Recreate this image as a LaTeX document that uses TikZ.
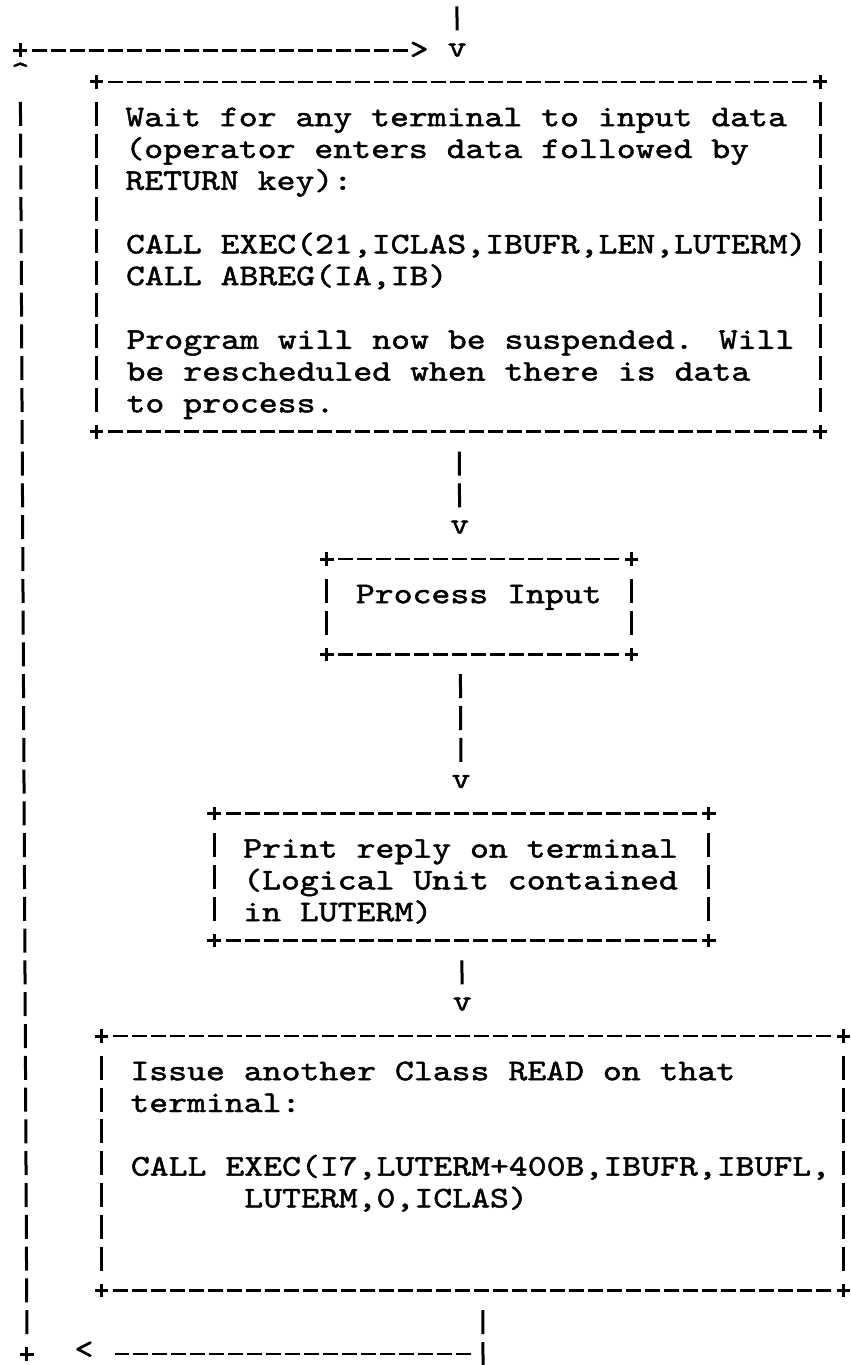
\documentclass[tikz,border=0pt]{standalone}
\usepackage{fontspec}
\usepackage{tikz}
\usetikzlibrary{calc, fit}
\newfontfamily\scanfont{lmmono10-regular.otf}[FakeStretch=1.2, FakeBold=1.5]
\tikzset{
  hdash/.style={line width=1.4pt, dash pattern=on 7.5pt off 2pt,
                shorten <=5.75pt, shorten >=5.75pt},
  vbar/.style={line width=1.5pt, dash pattern=on 12pt off 3.9pt,
               shorten <=9.9pt, shorten >=9.9pt},
  txt/.style={anchor=north west, inner sep=0pt, yshift=5.13pt, align=left,
              font=\scanfont\fontsize{15}{15.9}\selectfont},
  glyph/.style={inner sep=0pt, font=\scanfont\fontsize{15}{15.9}\selectfont},
  frame/.style={inner sep=0pt, outer sep=0pt},
  plus/.pic={\draw[line width=1.5pt] (-3.4pt,0) -- (3.4pt,0) (0,-3.4pt) -- (0,3.4pt);},
}
% ascii border round a fitted box
\newcommand\asciiframe[1]{%
  \draw[hdash] (#1.north west) -- (#1.north east);
  \draw[hdash] (#1.south west) -- (#1.south east);
  \draw[vbar] (#1.north west) -- (#1.south west);
  \draw[vbar] (#1.north east) -- (#1.south east);
  \foreach \c in {north west, north east, south west, south east}
    \pic at (#1.\c) {plus};
}

\begin{document}
\begin{tikzpicture}[x=9.5pt, y=-15.9pt]
  \path[use as bounding box, fill=white] (-1.0526,-0.5786) rectangle (43.737,42.346);
  \begin{scope}[xslant=-0.00524]
  %% Entry and wait box
  \coordinate (entry) at (23,-1);
  \node[glyph] (tipwait) at (23,1) {v};
  \draw[vbar] (entry) -- (tipwait.center);
  \node[frame, fit={(4,2) (42,13)}] (waitbox) {};
  \asciiframe{waitbox}
  \node[txt] (waittxt) at (5.5,3) {\strut Wait for any terminal to input data\\
    (operator enters data followed by\\RETURN key):};
  \node[txt] (waitcall) at (5.5,7) {\strut CALL EXEC(21,ICLAS,IBUFR,LEN,LUTERM)\\
    CALL ABREG(IA,IB)};
  \node[txt] (waitnote) at (5.5,10) {\strut Program will now be suspended. Will\\
    be rescheduled when there is data\\to process.};
  %% Process box
  \node[glyph] (tipproc) at (23,16) {v};
  \draw[vbar] (waitbox.south -| tipproc) -- (tipproc.center);
  \node[frame, fit={(16,17) (32,20)}] (procbox) {};
  \asciiframe{procbox}
  \node[txt] (proctxt) at (17.5,18) {\strut Process Input};
  %% Print box
  \node[glyph] (tipprint) at (23,24) {v};
  \draw[vbar] (procbox.south -| tipprint) -- (tipprint.center);
  \node[frame, fit={(10,25) (36,29)}] (printbox) {};
  \asciiframe{printbox}
  \node[txt] (printtxt) at (11.5,26) {\strut Print reply on terminal\\
    (Logical Unit contained\\in LUTERM)};
  %% Issue box
  \node[glyph] (tipissue) at (23,31) {v};
  \draw[vbar] (printbox.south -| tipissue) -- (tipissue.center);
  \node[frame, fit={(4,32) (43,40)}] (issuebox) {};
  \asciiframe{issuebox}
  \node[txt] (issuetxt) at (5.5,33) {\strut Issue another Class READ on that\\terminal:};
  \node[txt] (issuecall) at (5.5,36) {\strut CALL EXEC(I7,LUTERM+400B,IBUFR,IBUFL,\\
    \hphantom{CALL E}LUTERM,0,ICLAS)};
  %% Loop back to the wait box
  \coordinate (turn) at (24,42);
  \coordinate (loopbot) at (0,42);
  \coordinate (up) at (0,2);
  \coordinate (looptop) at (0,1);
  \node[glyph, yshift=2pt] (tipback) at (3,42) {<};
  \node[glyph, yshift=5pt] (tipup) at (up) {\textasciicircum};
  \node[glyph] (tipright) at (21,1) {>};
  \draw[vbar, shorten >=-6pt] (issuebox.south -| turn) -- (turn);
  \draw[hdash, shorten >=15.25pt] (turn) -- (turn -| tipback);
  \draw[vbar] (loopbot) -- (up);
  \draw[hdash] (looptop) -- (tipright.center);
  \pic at (loopbot) {plus};
  \pic at (looptop) {plus};
  \end{scope}
\end{tikzpicture}
\end{document}
